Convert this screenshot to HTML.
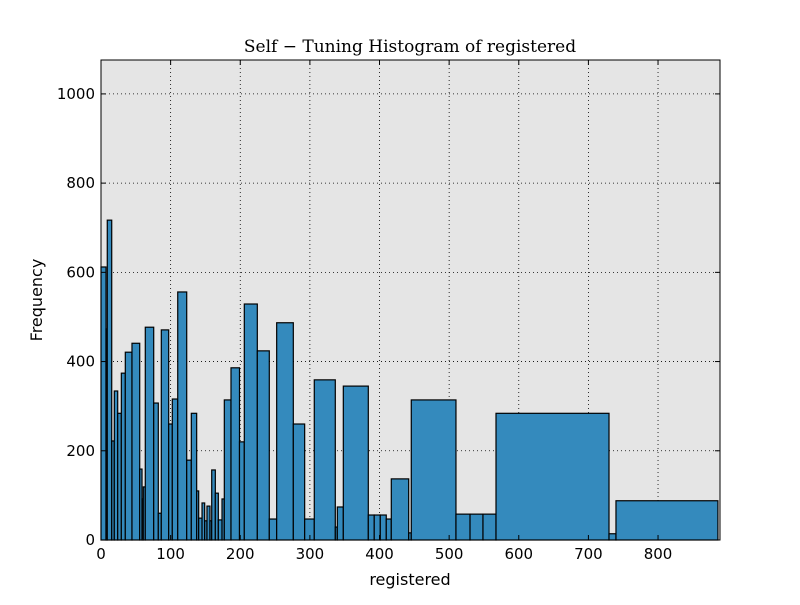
<!DOCTYPE html>
<html><head><meta charset="utf-8"><style>
body{margin:0;background:#fff;}
svg text{font-family:"DejaVu Sans","Liberation Sans",sans-serif;}
</style></head><body>
<svg id="chart" width="800" height="600" xmlns="http://www.w3.org/2000/svg">
<rect width="800" height="600" fill="#fff"/>
<rect x="101" y="60" width="619" height="480" fill="#e5e5e5"/>
<g id="grid"></g><g id="bars"></g><g id="ticks"></g>
<rect x="101" y="60" width="619" height="480" fill="none" stroke="#000" stroke-width="1"/>
<text x="410" y="52" text-anchor="middle" font-size="17" style="font-family:'DejaVu Serif','Liberation Serif',serif">Self − Tuning Histogram of registered</text>
<text x="410" y="585" text-anchor="middle" font-size="16">registered</text>
<text x="42" y="300" text-anchor="middle" font-size="16" transform="rotate(-90 42 300)">Frequency</text>
</svg>
<script>
const binLeft=[0,7.2,9.0,15.4,19.1,24.0,29.2,34.9,44.5,55.6,58.9,60.7,63.6,75.7,82.3,86.6,97.2,102.4,110.2,123.1,129.7,137.4,140.3,145.1,148.9,152.2,156.5,159,164.2,168.5,173.8,177.1,186.7,198.9,205.8,224.5,241.7,252.3,276.2,292.5,306.3,336.5,339.4,348,383.9,392.4,401.1,409.7,416.9,441.9,445.6,509.8,530,548.6,567.3,729.6,739.6];
const binRight=[7.2,9.0,15.4,19.1,24.0,29.2,34.9,44.5,55.6,58.9,60.7,63.6,75.7,82.3,86.6,97.2,102.4,110.2,123.1,129.7,137.4,140.3,145.1,148.9,152.2,156.5,159,164.2,168.5,173.8,177.1,186.7,198.9,205.8,224.5,241.7,252.3,276.2,292.5,306.3,336.5,339.4,348,383.9,392.4,401.1,409.7,416.9,441.9,445.6,509.8,530,548.6,567.3,729.6,739.6,886];
const counts=[612,473,717,222,334,284,374,421,441,159,92,119,477,307,60,471,260,316,556,179,284,110,49,83,43,76,43,157,105,45,92,314,386,220,529,424,47,487,260,47,359,29,74,345,56,56,56,47,137,16,314,58,58,58,284,14,88];
const xTicks=[0,100,200,300,400,500,600,700,800];
const yTicks=[0,200,400,600,800,1000];
const NS="http://www.w3.org/2000/svg";
const X0=101,X1=720,Y0=540,Y1=60,XMAX=889,YMAX=1076;
function sx(v){return X0+v/XMAX*(X1-X0);}
function sy(v){return Y0-v/YMAX*(Y0-Y1);}
function mk(t,a,p){const e=document.createElementNS(NS,t);for(const k in a)e.setAttribute(k,a[k]);p.appendChild(e);return e;}
const grid=document.getElementById('grid'),bars=document.getElementById('bars'),ticks=document.getElementById('ticks');
xTicks.forEach(v=>{
 const x=sx(v);
 const g=mk('line',{x1:x,x2:x,y1:Y1,y2:Y0,stroke:'#000','stroke-width':0.8,'stroke-dasharray':'1,3'},grid);
 
 
 mk('line',{x1:x,x2:x,y1:Y0,y2:Y0-5,stroke:'#000'},ticks);
 mk('line',{x1:x,x2:x,y1:Y1,y2:Y1+5,stroke:'#000'},ticks);
 const t=mk('text',{x:x,y:Y0+19,'text-anchor':'middle','font-size':15},ticks);
 t.textContent=v;
 
 
});
yTicks.forEach(v=>{
 const y=sy(v);
 const g=mk('line',{x1:X0,x2:X1,y1:y,y2:y,stroke:'#000','stroke-width':0.8,'stroke-dasharray':'1,3'},grid);
 
 
 mk('line',{x1:X0,x2:X0+5,y1:y,y2:y,stroke:'#000'},ticks);
 mk('line',{x1:X1,x2:X1-5,y1:y,y2:y,stroke:'#000'},ticks);
 const t=mk('text',{x:X0-6,y:y+5,'text-anchor':'end','font-size':15},ticks);
 t.textContent=v;
 
 
});
counts.forEach((c,i)=>{
 const x=sx(binLeft[i]),w=sx(binRight[i])-x,y=sy(c);
 const r=mk('rect',{x:x,y:y,width:Math.max(w,0.5),height:Y0-y,fill:'#348abd',stroke:'#000','stroke-width':1.2},bars);
 
 
});
</script>
</body></html>
